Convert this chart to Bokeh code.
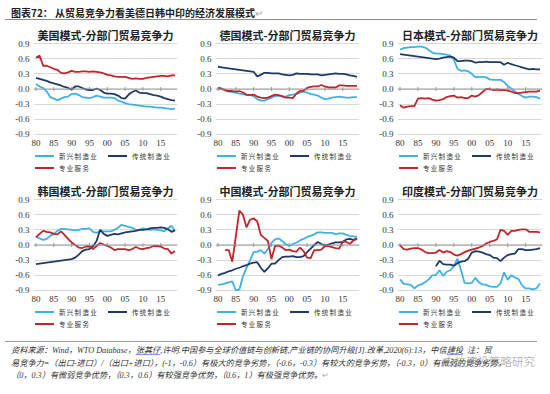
import numpy as np
from bokeh.plotting import figure
from bokeh.layouts import column, row
from bokeh.models import (Div, Range1d, FixedTicker, Span, NumeralTickFormatter)
from bokeh.embed import file_html
from bokeh.resources import INLINE

nan = np.nan
years = list(range(1980, 2020))
x_ticks = [1980, 1985, 1990, 1995, 2000, 2005, 2010, 2015]
x_tick_labels = ["80", "85", "90", "95", "00", "05", "10", "15"]
y_ticks = [-0.9, -0.6, -0.3, 0.0, 0.3, 0.6, 0.9]
series_names = ["新兴制造业", "传统制造业", "专业服务"]

panel_titles = ["美国模式-分部门贸易竞争力", "德国模式-分部门贸易竞争力", "日本模式-分部门贸易竞争力",
                "韩国模式-分部门贸易竞争力", "中国模式-分部门贸易竞争力", "印度模式-分部门贸易竞争力"]

# USA
usa_emerging = [0.10, 0.05, 0.02, -0.05, -0.16, -0.19, -0.22, -0.19, -0.16, -0.15,
                -0.10, -0.09, -0.12, -0.16, -0.17, -0.18, -0.16, -0.13, -0.15, -0.17,
                -0.17, -0.17, -0.18, -0.23, -0.25, -0.28, -0.30, -0.31, -0.32, -0.33,
                -0.34, -0.35, -0.35, -0.36, -0.37, -0.37, -0.38, -0.39, -0.40, -0.39]
usa_traditional = [0.22, 0.20, 0.18, 0.16, 0.13, 0.11, 0.09, 0.07, 0.04, 0.02,
                   -0.01, 0.05, 0.05, 0.02, -0.01, -0.02, -0.02, 0.01, -0.02, -0.07,
                   -0.09, -0.09, -0.10, -0.13, -0.18, -0.19, -0.11, -0.06, -0.03, -0.07,
                   -0.08, -0.08, -0.10, -0.12, -0.13, -0.15, -0.18, -0.20, -0.22, -0.23]
usa_services = [0.62, 0.66, 0.46, 0.46, 0.43, 0.40, 0.38, 0.32, 0.31, 0.33,
                0.36, 0.34, 0.34, 0.35, 0.35, 0.34, 0.35, 0.34, 0.33, 0.31,
                0.28, 0.27, 0.25, 0.24, 0.24, 0.24, 0.22, 0.20, 0.21, 0.20,
                0.20, 0.22, 0.23, 0.24, 0.25, 0.26, 0.26, 0.25, 0.27, 0.27]

# Germany
ger_emerging = [0.01, 0.00, -0.03, -0.05, -0.06, -0.07, -0.09, -0.10, -0.12, -0.12,
                -0.14, -0.20, -0.23, -0.23, -0.20, -0.17, -0.14, -0.13, -0.15, -0.15,
                -0.12, -0.11, -0.10, -0.07, -0.05, -0.07, -0.10, -0.11, -0.13, -0.17,
                -0.20, -0.19, -0.17, -0.16, -0.15, -0.16, -0.17, -0.17, -0.16, -0.16]
ger_traditional = [0.44, 0.43, 0.42, 0.41, 0.40, 0.39, 0.38, 0.37, 0.36, 0.35,
                   0.34, 0.25, 0.28, 0.32, 0.32, 0.31, 0.31, 0.31, 0.29, 0.28,
                   0.27, 0.28, 0.31, 0.30, 0.30, 0.30, 0.29, 0.29, 0.29, 0.27,
                   0.28, 0.29, 0.30, 0.31, 0.30, 0.30, 0.29, 0.27, 0.26, 0.24]
ger_services = [0.02, 0.01, -0.02, -0.04, -0.04, -0.05, -0.04, -0.07, -0.11, -0.12,
                -0.11, -0.15, -0.17, -0.18, -0.17, -0.14, -0.11, -0.12, -0.14, -0.17,
                -0.17, -0.18, -0.09, -0.04, -0.03, 0.02, 0.04, 0.05, 0.05, 0.08,
                0.05, 0.03, 0.03, 0.03, 0.07, 0.07, 0.06, 0.06, 0.06, 0.06]

# Japan
jpn_emerging = [0.78, 0.81, 0.82, 0.83, 0.83, 0.84, 0.84, 0.82, 0.77, 0.72,
                0.70, 0.70, 0.69, 0.68, 0.66, 0.58, 0.40, 0.36, 0.37, 0.35,
                0.30, 0.23, 0.24, 0.24, 0.23, 0.19, 0.18, 0.18, 0.18, 0.14,
                0.06, 0.01, -0.05, -0.10, -0.14, -0.17, -0.15, -0.15, -0.16, -0.19]
jpn_traditional = [0.69, 0.68, 0.67, 0.66, 0.65, 0.64, 0.63, 0.62, 0.61, 0.60,
                   0.59, 0.60, 0.62, 0.63, 0.64, 0.62, 0.55, 0.55, 0.56, 0.56,
                   0.55, 0.52, 0.53, 0.53, 0.54, 0.53, 0.53, 0.53, 0.53, 0.48,
                   0.52, 0.49, 0.47, 0.45, 0.43, 0.41, 0.39, 0.40, 0.39, 0.39]
jpn_services = [-0.32, -0.37, -0.35, -0.34, -0.34, -0.19, -0.18, -0.19, -0.18, -0.21,
                -0.23, -0.22, -0.20, -0.16, -0.14, -0.13, -0.17, -0.16, -0.18, -0.18,
                -0.13, -0.15, -0.12, -0.06, 0.00, 0.00, -0.02, -0.01, -0.02, -0.02,
                -0.03, -0.05, -0.08, -0.08, -0.07, -0.06, -0.05, -0.05, -0.05, -0.03]

# Korea
kor_emerging = [0.17, 0.13, 0.10, 0.12, 0.18, 0.22, 0.28, 0.32, 0.32, 0.31,
                0.30, 0.29, 0.30, 0.32, 0.32, 0.33, 0.26, 0.24, 0.28, 0.27,
                0.27, 0.27, 0.30, 0.34, 0.40, 0.38, 0.36, 0.34, 0.30, 0.30,
                0.33, 0.31, 0.30, 0.31, 0.30, 0.29, 0.27, 0.33, 0.38, 0.28]
kor_traditional = [-0.38, -0.37, -0.36, -0.35, -0.34, -0.33, -0.32, -0.31, -0.30, -0.29,
                   -0.28, -0.25, -0.19, -0.12, -0.09, -0.08, -0.02, 0.08, 0.30, 0.22,
                   0.18, 0.20, 0.22, 0.21, 0.23, 0.25, 0.26, 0.27, 0.28, 0.30,
                   0.30, 0.31, 0.33, 0.34, 0.34, 0.35, 0.34, 0.31, 0.26, 0.29]
kor_services = [0.15, 0.22, 0.28, 0.26, 0.25, 0.22, 0.21, 0.27, 0.20, 0.12,
                0.05, 0.00, -0.05, -0.06, -0.03, -0.03, -0.08, -0.02, 0.04, 0.01,
                -0.02, -0.05, -0.10, -0.08, -0.08, -0.08, -0.10, -0.08, -0.04, -0.07,
                -0.08, -0.06, -0.05, -0.02, -0.02, -0.03, -0.07, -0.08, -0.17, -0.12]

# China
chn_emerging = [-0.79, -0.78, -0.76, -0.74, -0.72, -0.90, -0.88, -0.62, -0.45, -0.30,
                -0.14, -0.13, -0.10, -0.17, -0.08, 0.04, 0.11, 0.13, 0.08, 0.02,
                -0.02, 0.02, 0.05, 0.09, 0.12, 0.16, 0.18, 0.21, 0.25, 0.25,
                0.24, 0.24, 0.24, 0.21, 0.23, 0.23, 0.20, 0.18, 0.17, 0.16]
chn_traditional = [-0.60, -0.57, -0.55, -0.52, -0.50, -0.47, -0.45, -0.42, -0.40, -0.37,
                   -0.35, -0.34, -0.45, -0.53, -0.46, -0.37, -0.37, -0.30, -0.24, -0.23,
                   -0.23, -0.22, -0.24, -0.24, -0.22, -0.14, -0.07, 0.00, 0.06, 0.02,
                   -0.01, 0.01, 0.03, 0.05, 0.05, 0.06, 0.11, 0.12, 0.10, 0.13]
chn_services = [nan, nan, -0.10, -0.10, -0.33, 0.17, 0.68, 0.60, 0.35, 0.50,
                0.53, 0.47, 0.20, 0.14, 0.08, -0.28, -0.02, -0.01, -0.05, -0.10,
                -0.09, -0.12, -0.13, -0.05, -0.12, -0.25, -0.26, -0.10, -0.10, -0.09,
                -0.02, -0.02, -0.04, -0.06, -0.07, 0.07, 0.06, 0.02, 0.09, 0.12]

# India
ind_emerging = [-0.68, -0.77, -0.78, -0.79, -0.86, -0.80, -0.78, -0.73, -0.68, -0.60,
                -0.59, -0.50, -0.61, -0.53, -0.50, -0.42, -0.27, -0.50, -0.75, -0.76,
                -0.75, -0.65, -0.74, -0.78, -0.79, -0.82, -0.83, -0.83, -0.76, -0.54,
                -0.69, -0.60, -0.64, -0.67, -0.80, -0.86, -0.86, -0.88, -0.86, -0.76]
ind_traditional = [nan, nan, nan, nan, nan, nan, nan, nan, nan, nan,
                   -0.42, -0.31, -0.38, -0.39, -0.39, -0.41, -0.36, -0.33, -0.32, -0.27,
                   -0.15, -0.12, -0.13, -0.15, -0.18, -0.20, -0.25, -0.26, -0.32, -0.25,
                   -0.20, -0.18, -0.17, -0.08, -0.08, -0.10, -0.10, -0.09, -0.08, -0.06]
ind_services = [0.00, -0.08, -0.09, -0.07, -0.06, -0.06, -0.09, -0.14, -0.16, -0.16,
                -0.15, -0.10, -0.15, -0.12, -0.14, -0.19, -0.21, -0.18, -0.14, -0.11,
                -0.09, -0.07, -0.05, -0.02, 0.03, 0.06, 0.08, 0.11, 0.30, 0.28,
                0.20, 0.28, 0.28, 0.30, 0.31, 0.31, 0.26, 0.26, 0.26, 0.25]

panel_data = [
    (usa_emerging, usa_traditional, usa_services),
    (ger_emerging, ger_traditional, ger_services),
    (jpn_emerging, jpn_traditional, jpn_services),
    (kor_emerging, kor_traditional, kor_services),
    (chn_emerging, chn_traditional, chn_services),
    (ind_emerging, ind_traditional, ind_services),
]

COLORS = ["#3FB2E4", "#1F3A66", "#BE252C"]
CJK = "Noto Sans CJK SC"
SERIF = "Liberation Serif"

widths = [180, 174, 178]
lefts = [33, 25, 23]
rights = [3, 5, 10]


def make_legend_div(w, offset):
    parts = []
    for k, (name, color) in enumerate(zip(series_names, COLORS)):
        col, rw = k % 2, k // 2
        parts.append(
            f'<div style="position:absolute;left:{offset + col * 73}px;top:{rw * 12 - 3}px;'
            f'white-space:nowrap;line-height:10px;">'
            f'<span style="display:inline-block;width:19px;height:0;border-top:2px solid {color};'
            f'vertical-align:middle;margin-right:5px;"></span>'
            f'<span style="vertical-align:middle;">{name}</span></div>')
    html = (f'<div style="position:relative;width:{w}px;height:22px;font-family:\'{CJK}\';'
            f'font-size:6.5px;letter-spacing:1.3px;color:#333;">' + "".join(parts) + '</div>')
    return Div(width=w, height=22, text=html)


def make_panel(title, data, w, left, right):
    fw = w - left - right
    p = figure(frame_width=fw, frame_height=93, output_backend="svg", toolbar_location=None,
               x_range=Range1d(1979.3, 2019.7), y_range=Range1d(-0.92, 0.92),
               min_border_left=left, min_border_right=right,
               min_border_top=0, min_border_bottom=0)
    p.outline_line_color = None
    p.background_fill_color = "white"
    p.border_fill_color = "white"
    p.title.text = title
    p.title.align = "center"
    p.title.text_font = CJK
    p.title.text_font_size = "11px"
    p.title.text_font_style = "bold"
    p.title.text_color = "#222222"
    p.title.standoff = 0
    p.title.offset = 0

    p.xgrid.grid_line_color = None
    p.ygrid.ticker = FixedTicker(ticks=y_ticks)
    p.ygrid.grid_line_color = "#d9d9d9"
    p.ygrid.grid_line_width = 1

    p.yaxis.ticker = FixedTicker(ticks=y_ticks)
    p.yaxis.formatter = NumeralTickFormatter(format="0.0")
    p.xaxis.ticker = FixedTicker(ticks=x_ticks)
    p.xaxis.major_label_overrides = dict(zip(x_ticks, x_tick_labels))
    for ax in (p.xaxis, p.yaxis):
        ax.axis_line_color = None
        ax.major_tick_line_color = None
        ax.minor_tick_line_color = None
        ax.major_tick_out = 0
        ax.major_tick_in = 0
        ax.major_label_text_font = SERIF
        ax.major_label_text_font_size = "9px"
        ax.major_label_text_color = "#333333"
        ax.major_label_standoff = 4

    p.add_layout(Span(location=0, dimension="width", line_color="#9a9a9a", line_width=1))
    p.scatter(x=x_ticks, y=[0.0] * len(x_ticks), marker="dash", angle=np.pi / 2,
              size=4, line_color="#9a9a9a", line_width=1)

    for vals, color in zip(data, COLORS):
        p.line(years, np.array(vals, dtype=float), line_color=color, line_width=1.8)

    return column(p, make_legend_div(w, left - 3))


panels = []
for i, (title, data) in enumerate(zip(panel_titles, panel_data)):
    c = i % 3
    panels.append(make_panel(title, data, widths[c], lefts[c], rights[c]))

header = Div(width=532, height=14, text=(
    '<div style="width:532px;font-family:\'Noto Sans CJK SC\';font-weight:bold;font-size:10px;'
    'color:#222;padding-left:6px;padding-bottom:0px;border-bottom:1.5px solid #8c8c8c;'
    'line-height:12px;box-sizing:border-box;">图表72：&nbsp;从贸易竞争力看美德日韩中印的经济发展模式'
    '<span style="color:#aaa;font-weight:normal">↵</span></div>'))

note_style = ("width:532px;box-sizing:border-box;border-top:1px solid #9a9a9a;padding:3px 0 0 6px;"
              "font-family:'Liberation Serif','Noto Sans CJK SC';font-style:italic;"
              "font-size:8.2px;line-height:12.6px;color:#333;white-space:nowrap;position:relative;")
u = "text-decoration:underline;text-decoration-color:#7a9ad6;"
notes = Div(width=532, height=48, text=(
    f'<div style="{note_style}">'
    f'资料来源：Wind，WTO Database，<span style="{u}">张其仔</span>,许明.中国参与全球价值链与创新链,产业链的协同升级[J].改革,2020(6):13，中信<span style="{u}">建投</span>&nbsp;&nbsp;注：贸<br>'
    '易竞争力=（出口-进口）/（出口+进口），(-1，-0.6）有极大的竞争劣势，（-0.6，-0.3）有较大的竞争劣势，（-0.3，0）有微弱的竞争劣势，<br>'
    '（0，0.3）有微弱竞争优势，（0.3，0.6）有较强竞争优势，（0.6，1）有极强竞争优势。<span style="color:#aaa;font-style:normal">↵</span>'
    '<span style="position:absolute;left:438px;top:13px;font-style:normal;font-family:\'Noto Sans CJK SC\';'
    'font-size:11.5px;letter-spacing:0px;color:rgba(120,120,120,0.55);">中信建投策略研究</span>'
    '</div>'))

layout = column(header, row(*panels[:3]), row(*panels[3:]), notes)

open("out.html", "w").write(file_html(layout, INLINE))
